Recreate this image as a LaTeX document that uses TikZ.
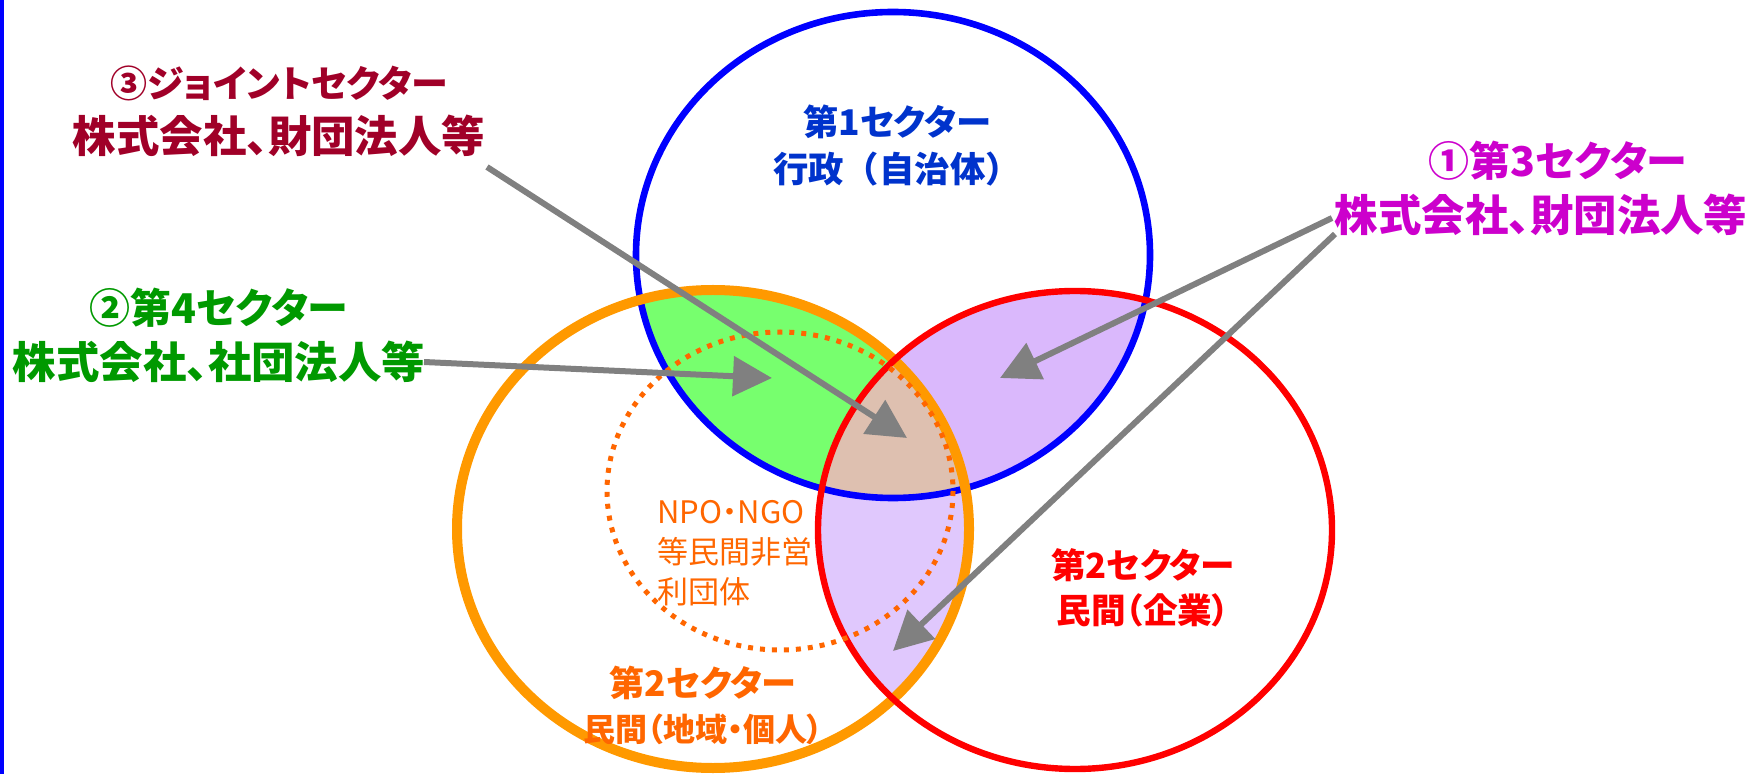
\documentclass[tikz,border=0pt]{standalone}
\usepackage{fontspec}
\setmainfont{Noto Sans CJK JP}[RawFeature=+palt]
\newfontfamily\jpfull{Noto Sans CJK JP}
\usetikzlibrary{arrows.meta}
\definecolor{arrowgray}{HTML}{808080}
\definecolor{strokeorange}{HTML}{FF9900}
\definecolor{dotorange}{HTML}{FF6600}
\definecolor{txtblue}{HTML}{0033CC}
\definecolor{txtdarkred}{HTML}{A00028}
\definecolor{txtgreen}{HTML}{009900}
\definecolor{txtmagenta}{HTML}{CC00CC}
\definecolor{fillgreen}{HTML}{77FF6E}
\definecolor{fillpurpleA}{HTML}{DAB8FC}
\definecolor{fillpurpleB}{HTML}{E0C8FD}
\definecolor{filltan}{HTML}{DEC0B0}
\def\blueE{(893,255) ellipse [x radius=257, y radius=243]}
\def\orangeE{(713,529) ellipse [x radius=256, y radius=239]}
\def\redE{(1075,530) ellipse [x radius=257, y radius=239]}
\def\dotE{(780,491) ellipse [x radius=173, y radius=159]}
\newcommand\lineA[1]{{\fontsize{20.5pt}{27.5pt}\selectfont #1}}
\newcommand\lineB[1]{{\fontsize{21.7pt}{27.5pt}\selectfont #1}}
\tikzset{
  arrowline/.style={draw=arrowgray, line width=3pt, -{Triangle[length=19.5pt,width=19.5pt]}},
  lbl/.style={align=center, inner sep=0pt, font=\bfseries},
}
\begin{document}
\begin{tikzpicture}[x=0.5pt,y=-0.5pt]
\useasboundingbox (0,0) rectangle (1749,774);
\fill[blue] (0,0) rectangle (4,774);
% fills
\begin{scope}\clip \orangeE; \fill[fillpurpleB] \redE; \end{scope}
\begin{scope}\clip \blueE; \fill[fillpurpleA] \redE; \end{scope}
\begin{scope}\clip \blueE; \fill[fillgreen] \orangeE; \end{scope}
\begin{scope}\clip \blueE; \clip \orangeE; \fill[filltan] \redE; \end{scope}
% outlines
\draw[blue, line width=3.3pt] \blueE;
\draw[strokeorange, line width=5pt] \orangeE;
\draw[red, line width=3.2pt] \redE;
\draw[dotorange, line width=2.5pt, dash pattern=on 2.5pt off 3.5pt] \dotE;
% texts
\node[lbl, text=txtblue, font=\bfseries\fontsize{17.7pt}{23.5pt}\selectfont] (s1) at (897,146) {第1セクター\\{\jpfull\bfseries 行政（自治体）}};
\node[align=left, anchor=west, inner sep=0pt, text=dotorange, font=\fontsize{15.5pt}{20pt}\selectfont] (npo) at (657,553) {NPO・NGO\\等民間非営\\利団体};
\node[lbl, text=red, font=\bfseries\fontsize{17.3pt}{22.5pt}\selectfont] (s2r) at (1143,588) {第2セクター\\民間（企業）};
\node[lbl, text=dotorange, font=\bfseries\fontsize{17.6pt}{22.5pt}\selectfont] (s2o) at (703,705) {第2セクター\\{\fontsize{16pt}{22.5pt}\selectfont 民間（地域・個人）}};
\node[lbl, text=txtdarkred, font=\bfseries\fontsize{20.5pt}{27.5pt}\selectfont] (l3) at (279,111) {{\fontsize{18.5pt}{27.5pt}\selectfont ③ジョイントセクター}\\\lineB{株式会社、財団法人等}};
\node[lbl, text=txtgreen, font=\bfseries\fontsize{20.5pt}{27.5pt}\selectfont] (l2) at (219,335) {\lineA{②第4セクター}\\\lineB{株式会社、社団法人等}};
\node[lbl, text=txtmagenta, font=\bfseries\fontsize{20.5pt}{27.5pt}\selectfont] (l1) at (1541,188) {\lineA{\hspace*{17pt}①第3セクター}\\\lineB{株式会社、財団法人等}};
% arrow end points
\coordinate (a3s) at (487,167);
\coordinate (a3e) at (907,438);
\coordinate (a2s) at (424,362);
\coordinate (a2e) at (772,378);
\coordinate (a1s) at (1332,218);
\coordinate (a1e) at (1000,378);
\coordinate (b1s) at (1335,234);
\coordinate (b1e) at (893,651);
\draw[arrowline] (a3s) -- (a3e);
\draw[arrowline] (a2s) -- (a2e);
\draw[arrowline] (a1s) -- (a1e);
\draw[arrowline] (b1s) -- (b1e);
\end{tikzpicture}
\end{document}
